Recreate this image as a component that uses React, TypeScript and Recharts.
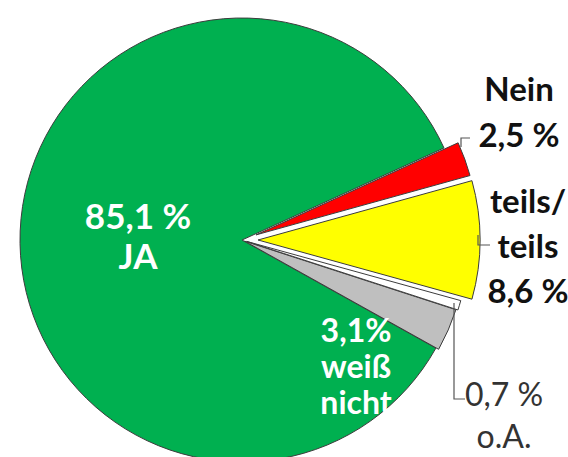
import React from "react";
import { Pie, PieChart, Cell } from "recharts";

// values, clockwise from the red slice
const categories = ["Nein", "teils/teils", "o.A.", "weiß nicht", "JA"];
const values = [2.5, 8.6, 0.7, 3.1, 85.1];
const valueLabels = ["2,5 %", "8,6 %", "0,7 %", "3,1%", "85,1 %"];

const colors = ["#FF0000", "#FFFF00", "#FFFFFF", "#BFBFBF", "#00B050"];
const explode = [15, 16, 5, 3, 0];

const W = 568;
const H = 457;
const CX = 237;
const CY = 235;
const R = 222;
const START = 24.5;
const RAD = Math.PI / 180;
const FONT = "Lato, 'Open Sans', sans-serif";

const data = categories.map((name, i) => ({ name, value: values[i] }));
const total = values.reduce((a, b) => a + b, 0);

const midAngles = values.map((v, i) => {
  const before = values.slice(0, i).reduce((a, b) => a + b, 0);
  return START - (360 * (before + v / 2)) / total;
});

// text blocks, relative to pie centre
const labelLayout = [
  { lines: ["Nein", valueLabels[0]], x: 282, y: -134, gap: 46, fill: "#111", weight: 700, size: 33 },
  { lines: ["teils/", "teils", valueLabels[1]], x: 291, y: -22, gap: 45, fill: "#111", weight: 700, size: 33 },
  { lines: [valueLabels[2], "o.A."], x: 267, y: 171, gap: 42, fill: "#333", weight: 400, size: 32 },
  { lines: [valueLabels[3], "weiß", "nicht"], x: 119, y: 107, gap: 36, fill: "#fff", weight: 700, size: 32 },
  { lines: [valueLabels[4], "JA"], x: -99, y: -6, gap: 40, fill: "#fff", weight: 700, size: 35 },
];

const leaders = [
  [[224, -88], [224, -97], [233, -97]],
  [[241, 0], [241, 10], [253, 10]],
  [[217, 68], [217, 164], [228, 164]],
];

const renderLabels = (props: any) => {
  if (props.index !== 0) return null;
  return (
    <g>
      {leaders.map((pts, i) => (
        <path
          key={"l" + i}
          d={pts.map((p, k) => `${k ? "L" : "M"}${CX + p[0]},${CY + p[1]}`).join(" ")}
          stroke="#555"
          strokeWidth={1.2}
          fill="none"
        />
      ))}
      {labelLayout.map((l, i) => (
        <text
          key={"t" + i}
          x={CX + l.x}
          y={CY + l.y}
          textAnchor="middle"
          fontFamily={FONT}
          fontSize={l.size}
          fontWeight={l.weight}
          fill={l.fill}
        >
          {l.lines.map((s, k) => (
            <tspan key={k} x={CX + l.x} dy={k ? l.gap : 0}>
              {s}
            </tspan>
          ))}
        </text>
      ))}
    </g>
  );
};

const drawOrder = [4, 3, 2, 1, 0];

export default function App() {
  return (
    <div style={{ position: "absolute", left: 0, top: 0, background: "#fff" }}>
      <PieChart width={W} height={H}>
        {drawOrder.map((j, n) => (
          <Pie
            key={j}
            data={data}
            dataKey="value"
            nameKey="name"
            cx={CX + explode[j] * Math.cos(midAngles[j] * RAD)}
            cy={CY - explode[j] * Math.sin(midAngles[j] * RAD)}
            outerRadius={R}
            startAngle={START}
            endAngle={START - 360}
            isAnimationActive={false}
            label={n === drawOrder.length - 1 ? renderLabels : false}
            labelLine={false}
          >
            {data.map((d, i) => (
              <Cell
                key={d.name}
                fill={i === j ? colors[i] : "none"}
                stroke={i === j ? "#3c3c3c" : "none"}
                strokeWidth={1}
              />
            ))}
          </Pie>
        ))}
      </PieChart>
    </div>
  );
}
